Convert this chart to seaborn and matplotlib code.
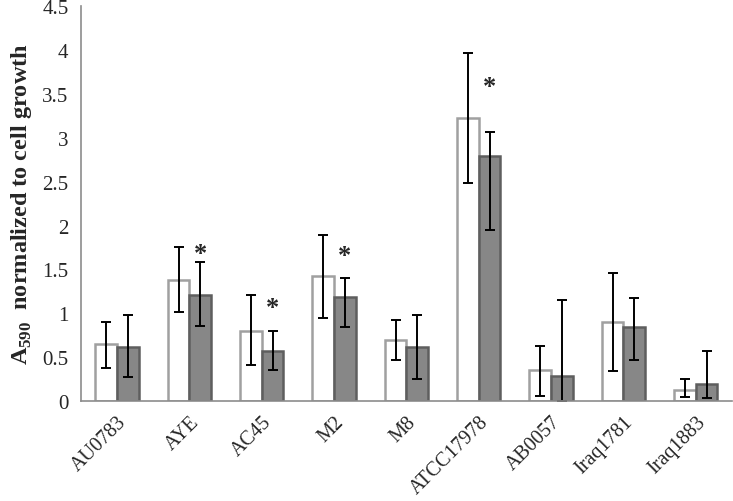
import numpy as np
import pandas as pd
import matplotlib
matplotlib.use('Agg')
import matplotlib.pyplot as plt
import seaborn as sns

# strains on the x axis
strains = ['AU0783', 'AYE', 'AC45', 'M2', 'M8', 'ATCC17978', 'AB0057', 'Iraq1781', 'Iraq1883']

# bar heights (white = first condition, grey = second condition)
white_vals = [0.65, 1.38, 0.80, 1.42, 0.70, 3.22, 0.35, 0.90, 0.13]
grey_vals = [0.62, 1.21, 0.57, 1.19, 0.62, 2.79, 0.29, 0.84, 0.20]

# error bar ends (asymmetric)
white_low = [0.38, 1.02, 0.41, 0.95, 0.47, 2.48, 0.06, 0.34, 0.05]
white_high = [0.90, 1.75, 1.21, 1.89, 0.92, 3.96, 0.63, 1.46, 0.25]
grey_low = [0.27, 0.85, 0.35, 0.84, 0.25, 1.95, 0.00, 0.47, 0.04]
grey_high = [0.98, 1.58, 0.80, 1.40, 0.98, 3.06, 1.15, 1.17, 0.57]

# significance stars: strain index and height of the star centre
star_idx = [1, 2, 3, 5]
star_y = [1.78, 1.16, 1.75, 3.68]

df = pd.DataFrame({
    'strain': strains * 2,
    'value': white_vals + grey_vals,
    'group': ['white'] * len(strains) + ['grey'] * len(strains),
})

sns.set_theme(style='white')
plt.rcParams['font.family'] = ['Liberation Serif', 'DejaVu Serif']
plt.rcParams['mathtext.fontset'] = 'custom'
plt.rcParams['mathtext.rm'] = 'Liberation Serif'
plt.rcParams['mathtext.bf'] = 'Liberation Serif:bold'

fig = plt.figure(figsize=(7.33, 5.02), dpi=100)
ax = fig.add_axes([0.1105, 0.199, 0.888, 0.787])

sns.barplot(data=df, x='strain', y='value', hue='group', order=strains,
            hue_order=['white', 'grey'], palette={'white': 'white', 'grey': '#878787'},
            width=0.6, gap=0, errorbar=None, legend=False, ax=ax)

# style the bars and collect centres
n = len(strains)
patches = ax.patches[:2 * n]
white_x = []
grey_x = []
for i, p in enumerate(patches):
    cx = p.get_x() + p.get_width() / 2
    if i < n:
        p.set_edgecolor('#a0a0a0')
        white_x.append(cx)
    else:
        p.set_edgecolor('#5e5e5e')
        grey_x.append(cx)
    p.set_linewidth(1.8)

wv = np.array(white_vals)
gv = np.array(grey_vals)
ax.errorbar(white_x, wv, yerr=[wv - np.array(white_low), np.array(white_high) - wv],
            fmt='none', ecolor='black', elinewidth=1.4, capsize=3.5, capthick=1.4)
ax.errorbar(grey_x, gv, yerr=[gv - np.array(grey_low), np.array(grey_high) - gv],
            fmt='none', ecolor='black', elinewidth=1.4, capsize=3.5, capthick=1.4)

for i, y in zip(star_idx, star_y):
    # asterisk glyph sits high in its box, so shift the box down a little
    ax.annotate('*', (grey_x[i], y), xytext=(0, -6), textcoords='offset points',
                ha='center', va='center', fontsize=19, fontweight='bold')

ax.set_ylim(0, 4.5)
ax.set_xlim(-0.5, n - 0.5)
ax.set_yticks(np.arange(0, 4.51, 0.5))
ax.set_yticklabels(['0', '0.5', '1', '1.5', '2', '2.5', '3', '3.5', '4', '4.5'])

ax.set_xticks(range(n))
ax.set_xticklabels(strains, rotation=45, ha='right', rotation_mode='anchor')
ax.set_xticks(np.arange(-0.5, n, 1), minor=True)
ax.tick_params(axis='x', which='major', length=0, labelsize=14.5, pad=8)
ax.tick_params(axis='x', which='minor', length=6, width=1.2, color='#8c8c8c', direction='out')
ax.tick_params(axis='y', length=6, width=1.2, color='#8c8c8c', direction='out', labelsize=15, pad=3)

for s in ['top', 'right']:
    ax.spines[s].set_visible(False)
for s in ['left', 'bottom']:
    ax.spines[s].set_color('#8c8c8c')
    ax.spines[s].set_linewidth(1.2)

ax.set_xlabel('')
ax.set_ylabel(r'$\mathbf{A}_{\mathbf{590}}$  normalized to cell growth', fontsize=17.5,
              fontweight='bold', labelpad=6)

plt.savefig('out.png', dpi=100)
